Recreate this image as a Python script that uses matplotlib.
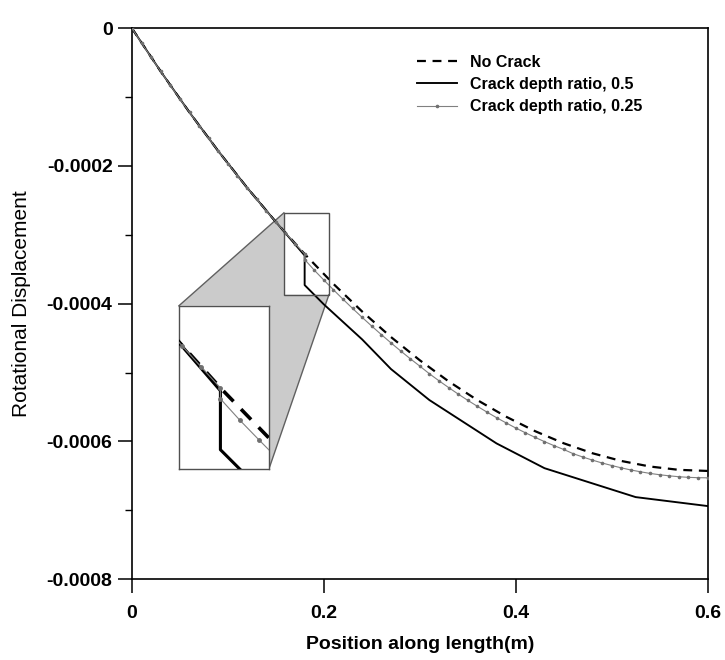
import matplotlib
matplotlib.use("Agg")
import numpy as np
import matplotlib.pyplot as plt
from matplotlib.patches import Polygon, Rectangle

plt.rcParams['font.family'] = ['Liberation Sans', 'DejaVu Sans']

SCALE = 1e-4

# no crack (smooth)
x_nocrack = [0, 0.03, 0.06, 0.09, 0.12, 0.15, 0.18, 0.21, 0.24, 0.27, 0.30,
             0.33, 0.36, 0.39, 0.42, 0.45, 0.48, 0.51, 0.54, 0.57, 0.60]
y_nocrack = [0, -0.627, -1.222, -1.784, -2.315, -2.813, -3.279, -3.713, -4.115,
             -4.485, -4.822, -5.128, -5.401, -5.642, -5.851, -6.028, -6.173,
             -6.285, -6.366, -6.414, -6.430]

# crack depth ratio 0.5, step at crack location
x_crack50 = [0, 0.03, 0.06, 0.09, 0.12, 0.15, 0.18, 0.18, 0.20, 0.24, 0.27,
             0.31, 0.38, 0.43, 0.525, 0.60]
y_crack50 = [0, -0.627, -1.222, -1.784, -2.315, -2.813, -3.30, -3.73, -4.01,
             -4.52, -4.95, -5.40, -6.03, -6.39, -6.81, -6.94]

# crack depth ratio 0.25
x_crack25 = [0.00, 0.01, 0.02, 0.03, 0.04, 0.05, 0.06, 0.07, 0.08, 0.09, 0.10,
             0.11, 0.12, 0.13, 0.14, 0.15, 0.16, 0.17, 0.18, 0.18, 0.19, 0.20,
             0.21, 0.22, 0.23, 0.24, 0.25, 0.26, 0.27, 0.28, 0.29, 0.30, 0.31,
             0.32, 0.33, 0.34, 0.35, 0.36, 0.37, 0.38, 0.39, 0.40, 0.41, 0.42,
             0.43, 0.44, 0.45, 0.46, 0.47, 0.48, 0.49, 0.50, 0.51, 0.52, 0.53,
             0.54, 0.55, 0.56, 0.57, 0.58, 0.59, 0.60]
y_crack25 = [0, -0.213, -0.422, -0.627, -0.829, -1.027, -1.222, -1.413, -1.600,
             -1.784, -1.965, -2.142, -2.315, -2.484, -2.651, -2.813, -2.972,
             -3.127, -3.279, -3.359, -3.513, -3.657, -3.798, -3.936, -4.070,
             -4.200, -4.327, -4.450, -4.570, -4.686, -4.799, -4.907, -5.018,
             -5.120, -5.218, -5.313, -5.404, -5.491, -5.575, -5.656, -5.732,
             -5.806, -5.875, -5.941, -6.004, -6.063, -6.118, -6.180, -6.228,
             -6.273, -6.314, -6.351, -6.385, -6.416, -6.442, -6.466, -6.485,
             -6.501, -6.514, -6.523, -6.528, -6.530]

labels = ['No Crack', 'Crack depth ratio, 0.5', 'Crack depth ratio, 0.25']

x_ticks = [0, 0.2, 0.4, 0.6]
x_ticklabels = ['0', '0.2', '0.4', '0.6']
y_ticks = [0, -2, -4, -6, -8]
y_ticklabels = ['0', '-0.0002', '-0.0004', '-0.0006', '-0.0008']

# zoom window (data coords) and where the magnified view sits
zoom_x = (0.1584, 0.2053)
zoom_y = (-3.87, -2.68)
inset_x = (0.049, 0.1428)
inset_y = (-6.40, -4.03)

s = SCALE
y_nc = np.array(y_nocrack) * s
y_c50 = np.array(y_crack50) * s
y_c25 = np.array(y_crack25) * s

fig = plt.figure(figsize=(7.25, 6.6), dpi=100)
ax = fig.add_axes([0.182, 0.1227, 0.794, 0.8344])

def draw_curves(a, lw_main, ms):
    a.plot(x_nocrack, y_nc, color='black', lw=lw_main, dashes=(4, 3),
           label=labels[0], zorder=3)
    a.plot(x_crack50, y_c50, color='black', lw=lw_main * 0.85,
           label=labels[1], zorder=3)
    a.plot(x_crack25, y_c25, color='#808080', lw=0.8, marker='o', ms=ms,
           mfc='#707070', mec='#707070', label=labels[2], zorder=3)

draw_curves(ax, 1.6, 1.6)

ax.set_xlim(0, 0.6)
ax.set_ylim(-8 * s, 0)
ax.set_xticks(x_ticks)
ax.set_xticklabels(x_ticklabels)
ax.set_yticks([v * s for v in y_ticks])
ax.set_yticklabels(y_ticklabels)
ax.set_yticks(np.arange(-7, 0, 2) * s, minor=True)
ax.tick_params(axis='both', which='major', direction='out', length=10,
               width=1.1, labelsize=14)
ax.tick_params(axis='x', pad=9)
ax.tick_params(axis='y', pad=4)
ax.tick_params(axis='y', which='minor', direction='out', length=5, width=1.0)
for lab in ax.get_xticklabels() + ax.get_yticklabels():
    lab.set_fontweight('bold')
for sp in ax.spines.values():
    sp.set_linewidth(1.2)

ax.set_xlabel('Position along length(m)', fontsize=14, fontweight='bold',
              labelpad=10)
ax.set_ylabel('Rotational Displacement', fontsize=15, labelpad=11)

# gray connector between zoom window and magnified view
zx0, zx1 = zoom_x
zy0, zy1 = zoom_y[0] * s, zoom_y[1] * s
ix0, ix1 = inset_x
iy0, iy1 = inset_y[0] * s, inset_y[1] * s
poly = Polygon([(ix0, iy1), (zx0, zy1), (zx0, zy0), (zx1, zy0), (ix1, iy0),
                (ix1, iy1)], closed=True, facecolor='#cbcbcb', edgecolor='none',
               zorder=1)
ax.add_patch(poly)
ax.plot([ix0, zx0], [iy1, zy1], color='#606060', lw=1.0, zorder=2)
ax.plot([zx1, ix1], [zy0, iy0], color='#606060', lw=1.0, zorder=2)
ax.add_patch(Rectangle((zx0, zy0), zx1 - zx0, zy1 - zy0, fill=False,
                       edgecolor='#505050', lw=1.0, zorder=4))

axin = ax.inset_axes([ix0, iy0, ix1 - ix0, iy1 - iy0], transform=ax.transData)
draw_curves(axin, 2.6, 2.5)
axin.set_xlim(zx0, zx1)
axin.set_ylim(zy0, zy1)
axin.set_xticks([])
axin.set_yticks([])
for sp in axin.spines.values():
    sp.set_linewidth(1.0)
    sp.set_edgecolor('#505050')

ax.legend(loc='upper left', bbox_to_anchor=(0.495, 0.952), frameon=False,
          borderpad=0, borderaxespad=0, handlelength=2.5, handletextpad=0.8,
          labelspacing=0.45, prop={'weight': 'bold', 'size': 11.5})

fig.savefig('out.png', dpi=100)
